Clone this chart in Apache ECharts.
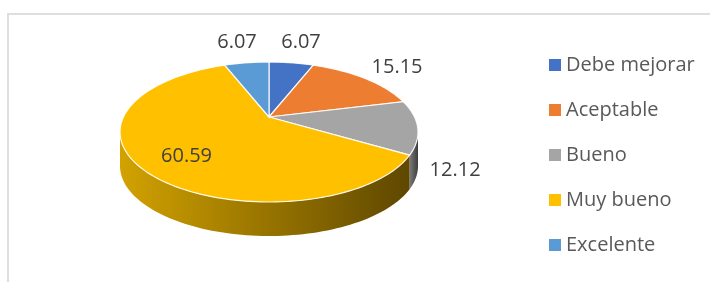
<!DOCTYPE html>
<html>
<head>
<meta charset="utf-8">
<script src="https://cdn.jsdelivr.net/npm/echarts@6/dist/echarts.min.js"></script>
<style>
  html, body { margin: 0; padding: 0; background: #fff; }
  #wrap { position: relative; width: 710px; height: 282px; overflow: hidden; }
  #frame { position: absolute; left: 7px; top: 13px; width: 720px; height: 290px;
           border-top: 2px solid #dedede; border-left: 2px solid #dedede; }
  #main { position: absolute; left: 0; top: 0; width: 710px; height: 282px; }
</style>
</head>
<body>
<div id="wrap">
  <div id="frame"></div>
  <div id="main"></div>
</div>
<script>
// datos del gráfico
const categories = ['Debe mejorar', 'Aceptable', 'Bueno', 'Muy bueno', 'Excelente'];
const values = [6.07, 15.15, 12.12, 60.59, 6.07];

// colores (cara superior / lateral)
const colors = ['#4472c4', '#ed7d31', '#a5a5a5', '#ffc000', '#5b9bd5'];
const sideStops = [
    ['#3a62a8', '#22396a'],
    ['#c9692a', '#7a3f17'],
    ['#7a7a7a', '#3c3c3c'],
    ['#d2a200', '#5e4700'],
    ['#4e84b5', '#2d4d6a']
];

// geometría del pastel 3D
const CX = 269, CY = 132, RX = 149, RY = 70, APEX_DY = -15, DEPTH = 34;
const FONT = '20px "Open Sans"';

const total = values.reduce((a, b) => a + b, 0);
const starts = [];
values.reduce((acc, v, i) => { starts[i] = acc / total * 360; return acc + v; }, 0);

const measureCtx = document.createElement('canvas').getContext('2d');
measureCtx.font = FONT;

function rad(d) { return d * Math.PI / 180; }

// ángulo del borde visto desde el vértice (perspectiva)
function rimPhi(theta) {
    if (theta <= 1e-9) return 0;
    if (theta >= 360 - 1e-9) return 360;
    let t = rad(theta);
    let qx = Math.sin(t), qy = -Math.cos(t);
    let px = 0, py = APEX_DY / RY;
    let A = qx * qx + qy * qy, B = 2 * (px * qx + py * qy), C = px * px + py * py - 1;
    let s = (-B + Math.sqrt(B * B - 4 * A * C)) / (2 * A);
    let ex = px + qx * s, ey = py + qy * s;
    let phi = Math.atan2(ex, -ey) * 180 / Math.PI;
    if (phi < 0) phi += 360;
    return phi;
}

function ellPt(phi, dy) {
    return [CX + RX * Math.sin(rad(phi)), CY - RY * Math.cos(rad(phi)) + (dy || 0)];
}

function arc(f0, f1, dy) {
    let n = Math.max(2, Math.ceil((f1 - f0) / 2));
    let pts = [];
    for (let k = 0; k <= n; k++) pts.push(ellPt(f0 + (f1 - f0) * k / n, dy));
    return pts;
}

function renderSlice(i) {
    return function (params, api) {
        let a0 = starts[i];
        let a1 = a0 + api.value(0) / total * 360;
        let f0 = rimPhi(a0), f1 = rimPhi(a1);
        let apex = [CX, CY + APEX_DY];
        let children = [];

        // cara superior
        children.push({
            type: 'polygon', z2: 10,
            shape: {points: [apex].concat(arc(f0, f1))},
            style: {fill: colors[i], stroke: 'rgba(255,255,255,0.9)', lineWidth: 1.2}
        });

        // lateral visible
        let lo = Math.max(f0, 90), hi = Math.min(f1, 270);
        if (hi > lo) {
            let top = arc(lo, hi), bot = arc(lo, hi, DEPTH).reverse();
            children.push({
                type: 'polygon', z2: 5,
                shape: {points: top.concat(bot)},
                style: {
                    fill: {
                        type: 'linear', x: 0, y: 0, x2: 1, y2: 0,
                        colorStops: [{offset: 0, color: sideStops[i][0]}, {offset: 1, color: sideStops[i][1]}]
                    }
                }
            });
        }

        // etiqueta
        let fm = rimPhi((a0 + a1) / 2);
        let P = ellPt(fm);
        let txt = api.value(0).toFixed(2);
        let lx, ly;
        if (api.value(0) / total > 0.3) {
            lx = CX + 0.65 * (P[0] - CX);
            ly = CY + 0.65 * (P[1] - CY);
        } else {
            let ux = P[0] - CX, uy = P[1] - CY;
            let len = Math.sqrt(ux * ux + uy * uy);
            ux /= len; uy /= len;
            let base = [P[0], P[1] + (Math.cos(rad(fm)) < 0.2 ? DEPTH * 1.3 : 0)];
            let w = measureCtx.measureText(txt).width;
            let g = 12;
            lx = base[0] + ux * g + ux * w / 2;
            ly = base[1] + uy * g + uy * 10;
        }
        children.push({
            type: 'text', z2: 20,
            x: lx, y: ly,
            style: {text: txt, font: FONT, fill: '#404040', align: 'center', verticalAlign: 'middle'}
        });

        return {type: 'group', children: children};
    };
}

let series = categories.map((name, i) => ({
    type: 'custom',
    name: name,
    coordinateSystem: 'none',
    itemStyle: {color: colors[i]},
    data: [values[i]],
    renderItem: renderSlice(i)
}));

let option = {
    animation: false,
    legend: {
        orient: 'vertical', left: 544, top: 50,
        icon: 'rect', itemWidth: 12, itemHeight: 12, itemGap: 25,
        selectedMode: false,
        textStyle: {fontFamily: 'Open Sans', fontSize: 20, lineHeight: 20, color: '#595959'},
        data: categories
    },
    series: series
};

let myChart = echarts.init(document.getElementById('main'));
myChart.setOption(option);
</script>
</body>
</html>
